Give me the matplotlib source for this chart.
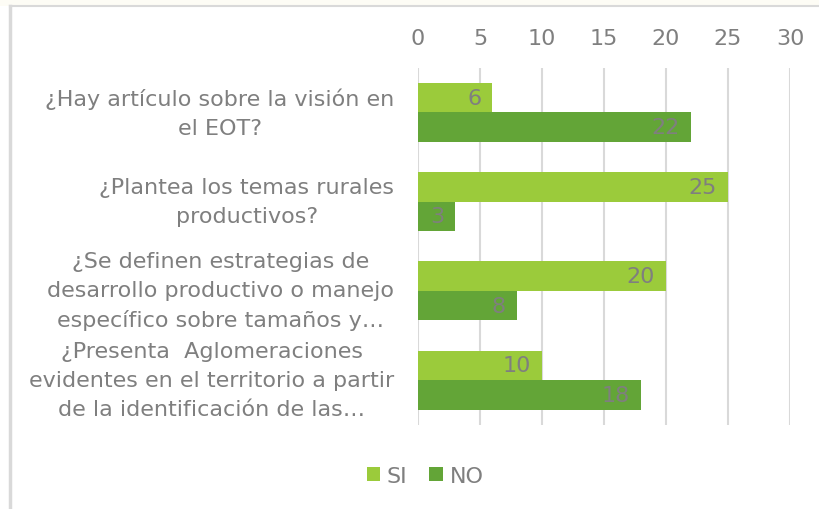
import numpy as np
import matplotlib.pyplot as plt
from matplotlib.patches import Rectangle

preguntas = ['¿Hay artículo sobre la visión en\nel EOT?',
             '¿Plantea los temas rurales\nproductivos?',
             '¿Se definen estrategias de\ndesarrollo productivo o manejo\nespecífico sobre tamaños y…',
             '¿Presenta  Aglomeraciones\nevidentes en el territorio a partir\nde la identificación de las…']
si = [6, 25, 20, 10]
no = [22, 3, 8, 18]
ticks = [0, 5, 10, 15, 20, 25, 30]

c_si = '#9bcb3b'
c_no = '#63a537'
gris = '#7f7f7f'

plt.rcParams['font.family'] = ['DejaVu Sans']

fig = plt.figure(figsize=(8.19, 5.10), dpi=100)
# marco del grafico
fig.patches.append(Rectangle((0, 1 - 7/510), 1, 7/510, transform=fig.transFigure,
                             facecolor='#fdfcf5', edgecolor='none', zorder=0))
fig.add_artist(plt.Line2D([10/819, 10/819], [0, 1 - 7/510], color='#d9d9d9', lw=2.5,
                          transform=fig.transFigure))
fig.add_artist(plt.Line2D([10/819, 1], [1 - 7/510, 1 - 7/510], color='#d9d9d9', lw=1.5,
                          transform=fig.transFigure))

ax = fig.add_axes([418/819, 1 - 425.75/510, (790 - 418)/819, (425.75 - 68.75)/510])
y = np.arange(len(preguntas))
h = 0.33
b1 = ax.barh(y - h/2, si, height=h, color=c_si, label='SI')
b2 = ax.barh(y + h/2, no, height=h, color=c_no, label='NO')

for bars, vals in [(b1, si), (b2, no)]:
    for r, v in zip(bars, vals):
        ax.annotate(str(v), (v, r.get_y() + r.get_height()/2), xytext=(-8, 0),
                    textcoords='offset points', ha='right', va='center',
                    fontsize=16, color=gris)

ax.set_xlim(0, 30)
ax.set_ylim(len(preguntas) - 0.5, -0.5)
ax.set_xticks(ticks)
ax.xaxis.tick_top()
ax.tick_params(axis='x', length=0, pad=14, labelsize=16, labelcolor=gris)
ax.set_yticks(y)
ax.set_yticklabels(preguntas, multialignment='center', linespacing=1.55, va='center')
ax.tick_params(axis='y', length=0, pad=17, labelsize=16, labelcolor=gris)
ax.grid(True, axis='x', color='#d9d9d9', lw=1.5)
ax.set_axisbelow(True)
for s in ax.spines.values():
    s.set_visible(False)

fig.legend(handles=[b1, b2], labels=['SI', 'NO'], loc='center', bbox_to_anchor=(425/819, 1 - 477/510),
           ncol=2, frameon=False, fontsize=16, labelcolor=gris, handlelength=0.6, handleheight=0.6,
           handletextpad=0.3, columnspacing=1.0)

fig.savefig('out.png', dpi=100)
